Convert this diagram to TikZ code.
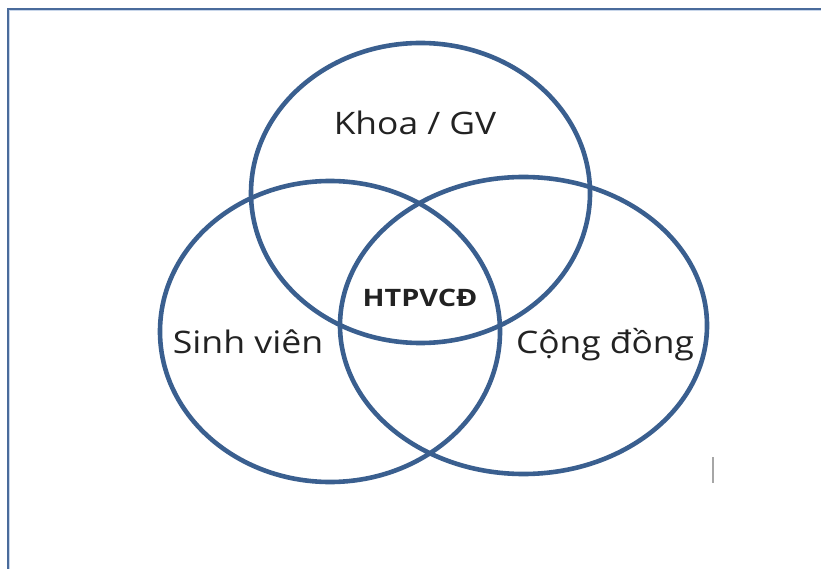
\documentclass[tikz,border=0pt]{standalone}
\usepackage{fontspec}
\setmainfont{Open Sans}
\usepackage{graphicx}
\definecolor{ring}{HTML}{3A5F8F}
\definecolor{frame}{HTML}{4A6B9B}
\definecolor{framelight}{HTML}{C8D6EA}
\definecolor{caret}{HTML}{A6A6A6}
\definecolor{txt}{HTML}{222222}
\tikzset{
  ring/.style={draw=ring, line width=4.6pt},
  lbl/.style={anchor=base, inner sep=0pt, text=txt, font=\fontsize{31}{36}\selectfont},
  core/.style={anchor=base, inner sep=0pt, text=txt, font=\bfseries\fontsize{24}{28}\selectfont},
}
\begin{document}
\begin{tikzpicture}[x=1pt, y=-1pt]
\useasboundingbox (0,0) rectangle (821,569);
% frame (only top and left edges visible)
\coordinate (f0) at (8,8.7);
\coordinate (f1) at (821,8.7);
\coordinate (f2) at (8,569);
\draw[framelight, line width=1.2pt] ([xshift=1.6pt,yshift=-1.6pt]f0) -- ([yshift=-1.6pt]f1);
\draw[framelight, line width=1.2pt] ([xshift=1.6pt,yshift=-1.6pt]f0) -- ([xshift=1.6pt]f2);
\draw[frame, line width=2pt] (f1) -- (f0) -- (f2);
% circles
\coordinate (top) at (420.5,193);
\coordinate (left) at (330,331.5);
\coordinate (right) at (523.5,325.5);
\draw[ring] (top) ellipse [x radius=169.5pt, y radius=150pt];
\draw[ring] (left) ellipse [x radius=170pt, y radius=150.5pt];
\draw[ring] (right) ellipse [x radius=183.5pt, y radius=148.5pt];
% labels
\node[lbl] (khoa) at (415,135) {\scalebox{1.14}[1]{Khoa / GV}};
\node[lbl] (sv) at (248,353) {\scalebox{1.15}[1]{Sinh viên}};
\node[lbl] (cd) at (605,353) {\scalebox{1.14}[1]{Cộng đồng}};
\node[core] (ht) at (420,306.7) {\scalebox{1.2}[1]{HTPVCĐ}};
% small caret mark
\coordinate (m0) at (713,457);
\coordinate (m1) at (713,483);
\draw[caret, line width=1.5pt] (m0) -- (m1);
\end{tikzpicture}
\end{document}
